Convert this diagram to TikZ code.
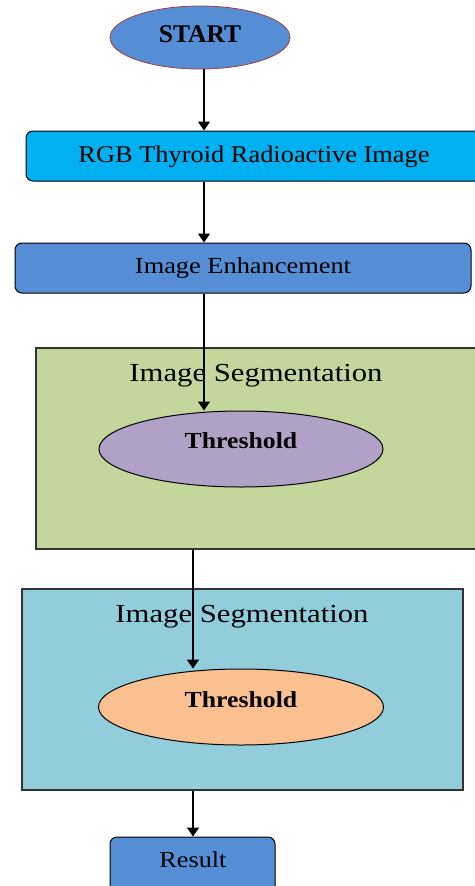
\documentclass[tikz,border=0pt]{standalone}
\usepackage{fontspec}
\setmainfont{Liberation Serif}
\usetikzlibrary{arrows.meta,shapes.geometric}
\definecolor{cblue}{HTML}{558ED5}
\definecolor{ccyan}{HTML}{00B0F0}
\definecolor{cgreen}{HTML}{C3D69B}
\definecolor{cpurple}{HTML}{B2A1C7}
\definecolor{cteal}{HTML}{92CDDC}
\definecolor{corange}{HTML}{FAC090}
\definecolor{cred}{HTML}{A0403C}
\newcommand{\sx}[2]{\scalebox{#1}[1]{#2}}
\tikzset{
  boxr/.style={draw=black,line width=1pt,rounded corners=7pt,inner sep=0pt},
  panel/.style={draw=black!80,line width=1.1pt,inner sep=0pt},
  oval/.style={ellipse,draw=black,line width=1pt,inner sep=0pt},
  lbl/.style={anchor=base,inner sep=0pt},
  arr/.style={line width=1.5pt,-{Triangle[length=9pt,width=12pt]}}
}
\begin{document}
\begin{tikzpicture}[x=1pt,y=-1pt]
\useasboundingbox (0,0) rectangle (474,886);
% shapes
\node[ellipse,draw=cred,line width=0.8pt,fill=cblue,inner sep=0pt,minimum width=180pt,minimum height=63pt] (start) at (200,37.5) {};
\node[boxr,fill=ccyan,minimum width=456pt,minimum height=50pt] (rgb) at (254,156) {};
\node[boxr,fill=cblue,minimum width=456pt,minimum height=50pt] (enh) at (243,268) {};
\node[panel,fill=cgreen,minimum width=444pt,minimum height=201pt] (seg1) at (258,448.5) {};
\node[oval,fill=cpurple,minimum width=284pt,minimum height=76pt] (th1) at (241,449) {};
\node[panel,fill=cteal,minimum width=441pt,minimum height=201pt] (seg2) at (242.5,689.5) {};
\node[oval,fill=corange,minimum width=285pt,minimum height=76pt] (th2) at (241,707) {};
\node[boxr,fill=cblue,minimum width=165pt,minimum height=60pt] (res) at (192.5,867) {};
% texts
\node[lbl,font=\fontsize{25.5}{28}\selectfont\bfseries] (tstart) at (200,42) {START};
\node[lbl,font=\fontsize{24}{28}\selectfont] (trgb) at (254,162) {\sx{1.1}{RGB Thyroid Radioactive Image}};
\node[lbl,font=\fontsize{23}{28}\selectfont] (tenh) at (243,273) {\sx{1.147}{Image Enhancement}};
\node[lbl,font=\fontsize{26}{30}\selectfont] (tseg1) at (256,381) {\sx{1.18}{Image Segmentation}};
\node[lbl,font=\fontsize{23}{28}\selectfont\bfseries] (tth1) at (241,448) {\sx{1.12}{Threshold}};
\node[lbl,font=\fontsize{26}{30}\selectfont] (tseg2) at (242,622) {\sx{1.18}{Image Segmentation}};
\node[lbl,font=\fontsize{23}{28}\selectfont\bfseries] (tth2) at (241,707) {\sx{1.12}{Threshold}};
\node[lbl,font=\fontsize{23}{28}\selectfont] (tres) at (193,867) {\sx{1.14}{Result}};
% connectors
\coordinate (ax) at (204,0);
\coordinate (bx) at (193,0);
\draw[arr] (ax |- start.south) -- (ax |- rgb.north);
\draw[arr] (ax |- rgb.south) -- (ax |- enh.north);
\draw[arr] (ax |- enh.south) -- (ax |- th1.north);
\draw[arr] (bx |- seg1.south) -- (bx |- th2.north);
\draw[arr] (bx |- seg2.south) -- (bx |- res.north);
\end{tikzpicture}
\end{document}
